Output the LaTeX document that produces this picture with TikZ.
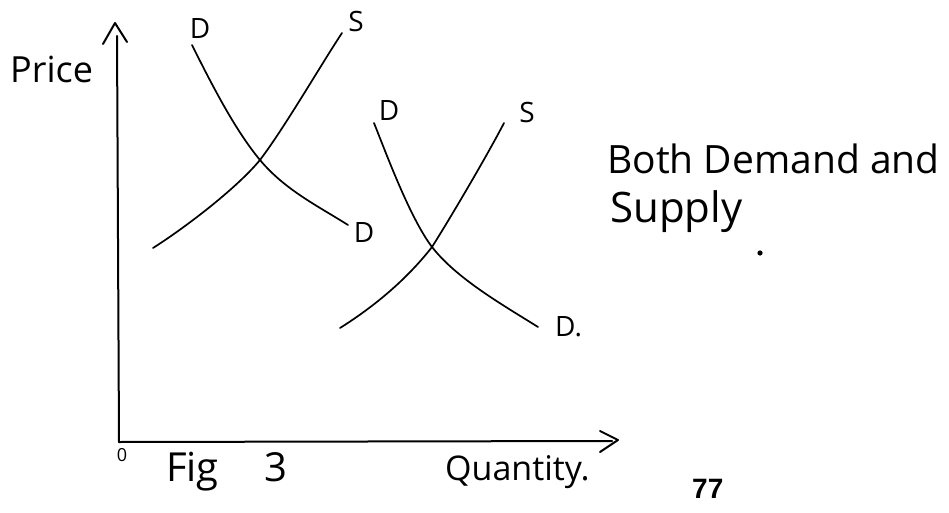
\documentclass[tikz,border=0pt]{standalone}
\usepackage{fontspec}
\setmainfont{Open Sans}
\newfontfamily\printfont{Liberation Sans}
\begin{document}
\begin{tikzpicture}[x=1pt,y=-1pt,
  curve/.style={line width=1.7pt, line cap=round, line join=round},
  axisline/.style={line width=2pt, line cap=round, line join=round},
  hand/.style={inner sep=0pt, anchor=base west, font=\fontsize{36}{40}\selectfont},
  lbl/.style={inner sep=0pt, font=\fontsize{28}{30}\selectfont}]
\useasboundingbox[fill=white] (0,0) rectangle (949,513);
% axes
\coordinate (O) at (119,442);
\coordinate (ytop) at (117,36);
\coordinate (xend) at (612,441);
\coordinate (yl) at (103,44);
\coordinate (yt) at (115,23);
\coordinate (yr) at (127,42);
\coordinate (xu) at (600,431);
\coordinate (xt) at (618,440);
\coordinate (xd) at (600,452);
\draw[axisline] (O) -- (ytop);
\draw[axisline] (O) -- (xend);
\draw[axisline] (yl) -- (yt) -- (yr);
\draw[axisline] (xu) -- (xt) -- (xd);
% first pair
\coordinate (E1) at (260,160);
\coordinate (D1a) at (192,45);
\coordinate (D1b) at (348,225);
\coordinate (S1a) at (153,248);
\coordinate (S1b) at (342,33);
\draw[curve] (D1a) .. controls (212,85) and (235,130) .. (E1)
                   .. controls (285,190) and (318,206) .. (D1b);
\draw[curve] (S1a) .. controls (183,229) and (235,190) .. (E1)
                   .. controls (285,127) and (322,63) .. (S1b);
% second pair
\coordinate (E2) at (432,247);
\coordinate (D2a) at (374,123);
\coordinate (D2b) at (538,327);
\coordinate (S2a) at (340,328);
\coordinate (S2b) at (504,123);
\draw[curve] (D2a) .. controls (386,153) and (410,218) .. (E2)
                   .. controls (457,279) and (503,305) .. (D2b);
\draw[curve] (S2a) .. controls (375,306) and (407,279) .. (E2)
                   .. controls (454,212) and (489,152) .. (S2b);
% curve labels
\node[lbl] (d1t) at (200,29) {D};
\node[lbl] (s1t) at (356,22) {S};
\node[lbl] (d1b) at (364,233) {D};
\node[lbl] (d2t) at (389,111) {D};
\node[lbl] (s2t) at (527,112) {S};
\node[lbl, anchor=west] (d2b) at (555,327) {D.};
% axis texts
\node[hand] (price) at (10,83) {Price};
\node[inner sep=0pt, font=\fontsize{18}{20}\selectfont] (zero) at (122,455) {0};
\node[hand, font=\fontsize{40}{42}\selectfont] (fig) at (166,481) {Fig\hspace{46pt}3};
\node[hand, font=\fontsize{34}{36}\selectfont] (qty) at (445,480) {Quantity.};
\node[inner sep=0pt, anchor=base west, font=\printfont\bfseries\fontsize{28}{30}\selectfont] (page) at (692,498) {77};
% side note
\node[hand, font=\fontsize{39}{42}\selectfont] (both) at (607,173) {Both Demand and};
\node[hand, font=\fontsize{42}{44}\selectfont] (supply) at (610,222) {Supply};
\fill (760,253) circle (2.6pt);
\end{tikzpicture}
\end{document}
